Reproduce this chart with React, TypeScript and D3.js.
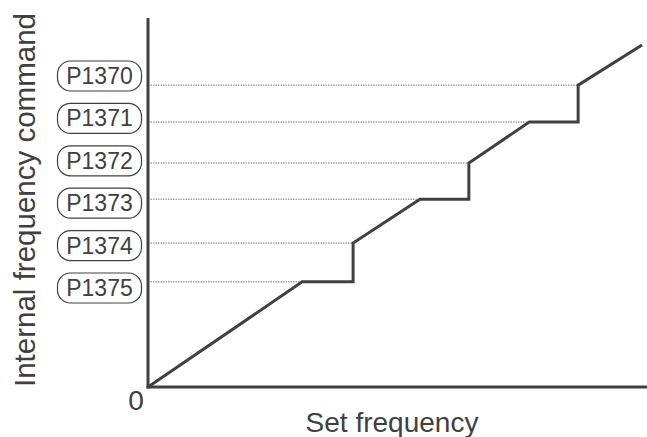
import React from "react";
import * as d3 from "d3";

const W = 647;
const H = 437;

// Set frequency (x) vs internal frequency command (y), abstract units 0..100
const stepX = [0, 30.9, 41.1, 41.1, 54.5, 64.3, 64.3, 76.4, 86.2, 86.2, 99.0];
const stepY = [0, 28.5, 28.5, 39.0, 50.9, 50.9, 60.7, 71.8, 71.8, 81.8, 92.7];

const paramLabels = ["P1370", "P1371", "P1372", "P1373", "P1374", "P1375"];
const paramLevels = [81.8, 71.8, 60.7, 50.9, 39.0, 28.5];
const paramLevelEndX = [86.2, 76.4, 64.3, 54.5, 41.1, 30.9];

const xTitle = "Set frequency";
const yTitle = "Internal frequency command";
const originLabel = "0";

const FONT = "'Liberation Sans', Arial, Helvetica, sans-serif";
const INK = "#404040";

export default function App() {
  const x = d3.scaleLinear().domain([0, 100]).range([148, 647]);
  const y = d3.scaleLinear().domain([0, 100]).range([387, 18]);
  const labelY = d3
    .scalePoint<string>()
    .domain(paramLabels)
    .range([76, 288]);

  const line = d3
    .line<number>()
    .x((_, i) => x(stepX[i]))
    .y((d) => y(d));

  return (
    <svg
      width={W}
      height={H}
      style={{ position: "absolute", left: 0, top: 0, background: "#fff" }}
    >
      {/* dotted guide lines */}
      {paramLevels.map((lv, i) => (
        <line
          key={"g" + i}
          x1={x(0)}
          x2={x(paramLevelEndX[i])}
          y1={y(lv)}
          y2={y(lv)}
          stroke="#7a7a7a"
          strokeWidth={1}
          strokeDasharray="1.5,1"
        />
      ))}
      {/* axes */}
      <line x1={x(0)} x2={x(0)} y1={y(100)} y2={y(0) + 1.5} stroke={INK} strokeWidth={3} />
      <line x1={x(0) - 1.5} x2={W} y1={y(0)} y2={y(0)} stroke={INK} strokeWidth={3} />
      {/* step line */}
      <path
        d={line(stepY) || ""}
        fill="none"
        stroke={INK}
        strokeWidth={3}
        strokeLinejoin="miter"
      />
      {/* parameter boxes */}
      {paramLabels.map((lab) => {
        const cy = labelY(lab) as number;
        return (
          <g key={lab}>
            <rect
              x={57.5}
              y={cy - 15}
              width={84}
              height={30}
              rx={13}
              ry={13}
              fill="#fff"
              stroke={INK}
              strokeWidth={1.2}
            />
            <text
              x={99.5}
              y={cy + 8}
              textAnchor="middle"
              fontFamily={FONT}
              fontSize={23}
              fill={INK}
            >
              {lab}
            </text>
          </g>
        );
      })}
      {/* titles */}
      <text
        x={392}
        y={432}
        textAnchor="middle"
        fontFamily={FONT}
        fontSize={28}
        fill={INK}
      >
        {xTitle}
      </text>
      <text
        transform="translate(35,387) rotate(-90)"
        x={0}
        y={0}
        textAnchor="start"
        fontFamily={FONT}
        fontSize={29}
        fill={INK}
        textLength={374}
        lengthAdjust="spacingAndGlyphs"
      >
        {yTitle}
      </text>
      <text
        x={136}
        y={410}
        textAnchor="middle"
        fontFamily={FONT}
        fontSize={28}
        fill={INK}
      >
        {originLabel}
      </text>
    </svg>
  );
}
